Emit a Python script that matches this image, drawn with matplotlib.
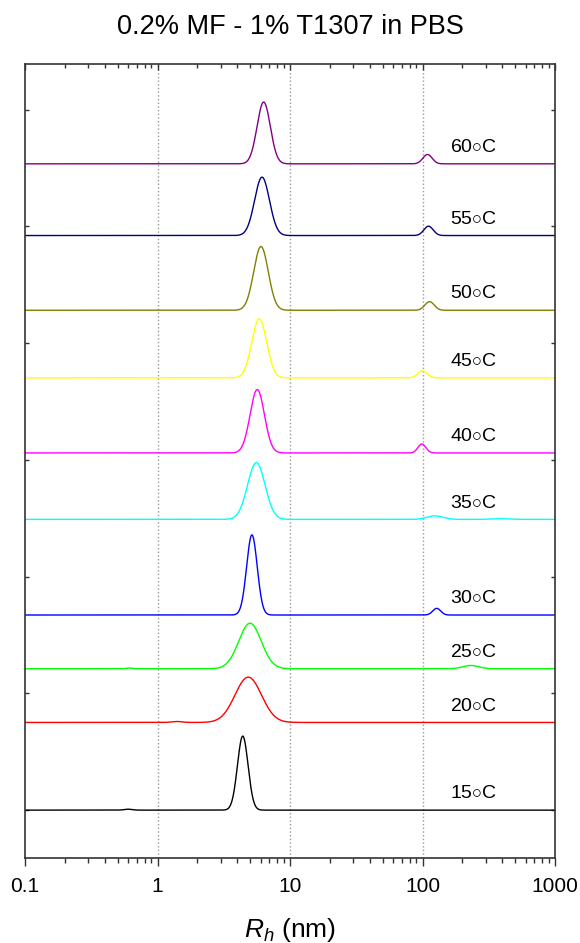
import numpy as np
import matplotlib
matplotlib.use("Agg")
import matplotlib.pyplot as plt
from matplotlib.ticker import LogLocator, NullFormatter, FixedLocator

plt.rcParams['font.family'] = ['Liberation Sans', 'DejaVu Sans']
plt.rcParams['mathtext.fontset'] = 'custom'
plt.rcParams['mathtext.rm'] = 'Liberation Sans'
plt.rcParams['mathtext.it'] = 'Liberation Sans:italic'

# temperature series, bottom to top
temps = [15, 20, 25, 30, 35, 40, 45, 50, 55, 60]
colors = ['#000000', '#ff0000', '#00ff00', '#0000ff', '#00ffff',
          '#ff00ff', '#ffff00', '#808000', '#000080', '#800080']

# vertical offset of each trace (baseline)
offsets = [0.0, 0.751, 1.211, 1.671, 2.490, 3.059, 3.702, 4.281, 4.921, 5.535]

# main population: centre (nm), height, width (decades, log-normal sigma)
main_center = [4.40, 4.84, 4.99, 5.16, 5.57, 5.66, 5.86, 6.04, 6.15, 6.33]
main_height = [0.634, 0.388, 0.390, 0.686, 0.486, 0.543, 0.506, 0.546, 0.500, 0.529]
main_width = [0.040, 0.100, 0.085, 0.040, 0.066, 0.054, 0.056, 0.055, 0.056, 0.050]

# minor populations per trace: (centre nm, height, width decades)
minor_peaks = [
    [(0.60, 0.008, 0.030)],
    [(1.40, 0.008, 0.040)],
    [(0.61, 0.006, 0.020), (231, 0.028, 0.060)],
    [(128, 0.057, 0.030)],
    [(124, 0.030, 0.060), (380, 0.006, 0.060)],
    [(99, 0.077, 0.030)],
    [(100, 0.060, 0.035)],
    [(113, 0.074, 0.035)],
    [(111, 0.080, 0.035)],
    [(109, 0.080, 0.035)],
]

xticks = [0.1, 1, 10, 100, 1000]
xtick_labels = ['0.1', '1', '10', '100', '1000']


def lognormal(r, center, height, width):
    return height * np.exp(-0.5 * ((np.log10(r) - np.log10(center)) / width) ** 2)


fig = plt.figure(figsize=(5.8, 9.43), dpi=100)
ax = fig.add_axes([25 / 580, 1 - 858 / 943, 530 / 580, (858 - 64) / 943])

r = np.logspace(-1, 3, 4000)
for i, t in enumerate(temps):
    y = offsets[i] + lognormal(r, main_center[i], main_height[i], main_width[i])
    for c, h, w in minor_peaks[i]:
        y = y + lognormal(r, c, h, w)
    ax.plot(r, y, color=colors[i], lw=1.0)
    ax.text(240, offsets[i] + 0.14, f'{t}$\\circ$C', fontsize=14,
            ha='center', va='center')

ax.set_xscale('log')
ax.set_xlim(0.1, 1000)
ax.set_ylim(-0.41, 6.39)

ax.set_xticks(xticks)
ax.set_xticklabels(xtick_labels)
ax.xaxis.set_minor_locator(LogLocator(base=10, subs=np.arange(2, 10)))
ax.xaxis.set_minor_formatter(NullFormatter())
ax.yaxis.set_major_locator(FixedLocator(np.arange(0, 7)))
ax.set_yticklabels([])

ax.tick_params(axis='x', which='major', direction='out', length=6, width=1,
               labelsize=15, pad=8, top=False, color='#333333')
ax.tick_params(axis='x', which='minor', direction='out', length=3.5, width=1,
               top=False, color='#333333')
ax.tick_params(axis='y', which='major', direction='in', length=3, width=1,
               left=True, right=True, color='#333333')

# inward ticks along the top edge
top = ax.secondary_xaxis('top')
top.set_xticks(xticks)
top.xaxis.set_minor_locator(LogLocator(base=10, subs=np.arange(2, 10)))
top.xaxis.set_minor_formatter(NullFormatter())
top.set_xticklabels([])
top.tick_params(which='major', direction='in', length=4, width=1, color='#333333')
top.tick_params(which='minor', direction='in', length=3, width=1, color='#333333')
top.spines['top'].set_visible(False)

for s in ax.spines.values():
    s.set_color('#333333')
    s.set_linewidth(1.2)

for xv in [1, 10, 100]:
    ax.axvline(xv, color='#999999', lw=1, ls=':', zorder=0)

ax.set_xlabel(r'$R_h$ (nm)', fontsize=19, labelpad=14)
fig.text(0.5, 1 - 27 / 943, '0.2% MF - 1% T1307 in PBS', fontsize=19.5,
         ha='center', va='center')

fig.savefig('out.png', dpi=100)
